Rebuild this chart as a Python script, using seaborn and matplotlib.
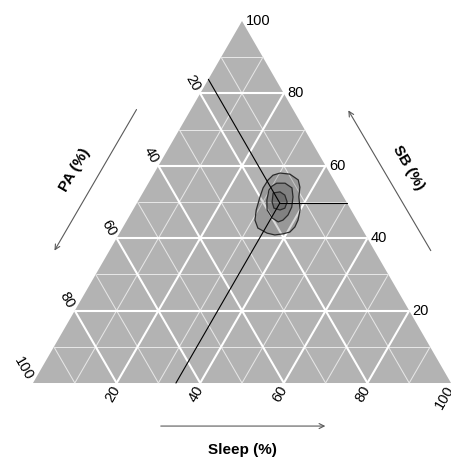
import numpy as np
import pandas as pd
import matplotlib
matplotlib.use("Agg")
import matplotlib.pyplot as plt
import seaborn as sns

# ---- data -------------------------------------------------------------
tick_values = [20, 40, 60, 80, 100]
major_grid = [20, 40, 60, 80]
minor_grid = [10, 30, 50, 70, 90]

# mean composition (percent of the day)
mean_sleep = 34.2
mean_sb = 49.7
mean_pa = 100 - mean_sleep - mean_sb

# density contour rings, outer to inner, as (Sleep %, SB %)
ring_outer_sleep = [30.1, 32.6, 35.4, 36.8, 37.9, 40.0, 40.9, 41.1, 40.6, 39.2,
                    37.4, 35.3, 32.4, 30.6, 29.5, 28.6, 28.1, 28.2, 28.7]
ring_outer_sb = [58.0, 57.7, 56.1, 54.1, 51.4, 47.8, 45.0, 43.1, 41.7, 41.2,
                 40.9, 41.4, 42.8, 45.0, 47.8, 51.4, 53.9, 56.1, 57.4]
ring_mid_sleep = [30.7, 32.7, 35.0, 36.5, 37.6, 37.8, 37.3, 36.4, 34.4, 32.1,
                  30.7, 29.8, 30.0]
ring_mid_sb = [55.2, 55.2, 53.9, 51.4, 48.6, 46.4, 45.0, 44.5, 45.6, 47.8,
               50.5, 53.3, 54.4]
ring_inner_sleep = [31.2, 32.7, 34.3, 35.8, 36.1, 35.2, 33.5, 32.2]
ring_inner_sb = [52.5, 52.8, 51.9, 50.0, 48.3, 47.8, 48.3, 50.0]

# ---- helpers ----------------------------------------------------------
H = np.sqrt(3) / 2


def tern(sleep, sb):
    sleep = np.asarray(sleep, dtype=float)
    sb = np.asarray(sb, dtype=float)
    return sleep + sb / 2, sb * H


# ---- figure -----------------------------------------------------------
sns.set_style("white")
plt.rcParams["font.family"] = ["Liberation Sans", "DejaVu Sans"]
plt.rcParams["text.color"] = "black"

fig = plt.figure(figsize=(4.51, 4.59), dpi=100)
ax = fig.add_axes([0, 0, 1, 1])
ax.set_xlim(-7.895, 100.0)
ax.set_ylim(-18.18, 91.63)
ax.set_aspect("equal")
ax.axis("off")

# triangle background
tx, ty = tern([0, 100, 0], [0, 0, 100])
ax.fill(tx, ty, color="#b3b3b3", zorder=1, lw=0)


def grid_line(v, **kw):
    # constant SB
    x, y = tern([0, 100 - v], [v, v])
    ax.plot(x, y, **kw)
    # constant Sleep
    x, y = tern([v, v], [0, 100 - v])
    ax.plot(x, y, **kw)
    # constant PA
    x, y = tern([0, 100 - v], [100 - v, 0])
    ax.plot(x, y, **kw)


for v in minor_grid:
    grid_line(v, color="#e6e6e6", lw=0.75, zorder=2, solid_capstyle="butt")
for v in major_grid:
    grid_line(v, color="white", lw=1.5, zorder=3, solid_capstyle="butt")

# density contours
for rs, rb in [(ring_outer_sleep, ring_outer_sb),
               (ring_mid_sleep, ring_mid_sb),
               (ring_inner_sleep, ring_inner_sb)]:
    cx, cy = tern(rs, rb)
    ax.fill(cx, cy, facecolor="black", alpha=0.15, lw=0, zorder=4)
    ax.fill(np.r_[cx, cx[0]], np.r_[cy, cy[0]], facecolor="none",
            edgecolor="#2b2b2b", lw=0.9, zorder=5)

# reference lines from the mean composition to each axis
guides = pd.DataFrame({
    "sleep": [mean_sleep, 0, mean_sleep, 100 - mean_sb, mean_sleep, mean_sleep],
    "sb": [mean_sb, 100 - mean_pa, mean_sb, mean_sb, mean_sb, 0],
    "axis": ["PA", "PA", "SB", "SB", "Sleep", "Sleep"],
})
guides["x"], guides["y"] = tern(guides["sleep"], guides["sb"])
sns.lineplot(data=guides, x="x", y="y", units="axis", estimator=None,
             sort=False, color="black", lw=0.8, ax=ax, zorder=6)
ax.set_xlabel("")
ax.set_ylabel("")

# tick labels
fs = 10.5
for v in tick_values:
    # SB along the right edge
    x, y = tern(100 - v, v)
    ax.annotate(str(v), (x, y), xytext=(2.5, 0), textcoords="offset points",
                ha="left", va="center", fontsize=fs, color="black", zorder=7)
    # Sleep along the bottom
    x, y = tern(v, 0)
    ax.annotate(str(v), (x, y), xytext=(0, -2.5), textcoords="offset points",
                ha="right", va="center", rotation=60, rotation_mode="anchor",
                fontsize=fs, color="black", zorder=7)
    # PA along the left edge
    x, y = tern(0, 100 - v)
    ax.annotate(str(v), (x, y), xytext=(-2.5, 2.5), textcoords="offset points",
                ha="right", va="center", rotation=-60, rotation_mode="anchor",
                fontsize=fs, color="black", zorder=7)

# axis titles and direction arrows
arrow_kw = dict(arrowstyle="->", color="#5a5a5a", lw=0.8, mutation_scale=9)
ax.annotate("", xy=(70.6, -10.3), xytext=(29.9, -10.3), arrowprops=arrow_kw)
ax.text(50.2, -16.0, "Sleep (%)", ha="center", va="center",
        fontsize=11, fontweight="bold", color="black")

ax.annotate("", xy=(4.8, 31.1), xytext=(25.1, 66.0), arrowprops=arrow_kw)
ax.text(10.0, 51.0, "PA (%)", ha="center", va="center", rotation=60,
        fontsize=11, fontweight="bold", color="black")

ax.annotate("", xy=(75.1, 65.8), xytext=(95.5, 31.1), arrowprops=arrow_kw)
ax.text(89.7, 51.4, "SB (%)", ha="center", va="center", rotation=-60,
        fontsize=11, fontweight="bold", color="black")

fig.savefig("out.png", dpi=100)
